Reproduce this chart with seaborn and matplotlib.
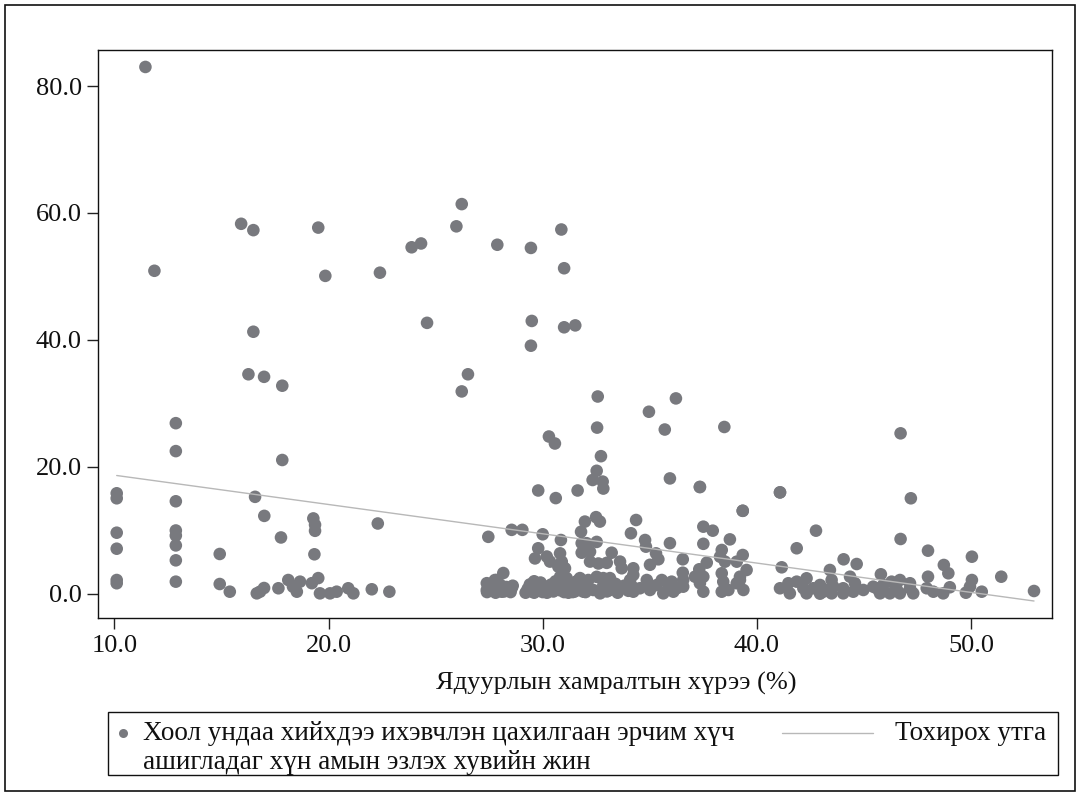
import numpy as np
import pandas as pd
import matplotlib
matplotlib.use("Agg")
import matplotlib.pyplot as plt
from matplotlib.patches import Rectangle
from matplotlib.lines import Line2D
import seaborn as sns

# Poverty headcount (%) and share (%) of population using electricity for cooking
x_low = [10.11, 10.11, 10.11, 10.11, 10.11, 10.11, 11.45, 11.87,
         12.87, 12.87, 12.87, 12.87, 12.87, 12.87, 12.87, 12.87]
y_low = [15.86, 15.07, 9.65, 7.13, 2.20, 1.69, 83.0, 50.9,
         26.9, 22.5, 14.6, 10.0, 9.2, 7.65, 5.3, 1.94]

x_a = [14.92, 14.92, 15.39, 16.57, 17.0, 17.84, 17.84, 16.99, 16.26, 16.49, 15.92, 16.49,
       19.52, 19.85, 22.4, 17.78, 16.65, 16.8, 16.99, 17.66, 18.12, 18.34, 18.52, 18.67,
       19.22, 19.29, 19.37, 19.37, 19.34, 19.6, 19.52, 20.07, 20.38, 20.92, 21.16, 22.02,
       22.84, 22.3]
y_a = [6.3, 1.57, 0.36, 15.3, 12.3, 21.1, 32.8, 34.2, 34.6, 41.3, 58.3, 57.3,
       57.7, 50.1, 50.6, 8.9, 0.1, 0.36, 0.94, 0.9, 2.2, 1.15, 0.36, 1.94,
       1.7, 11.9, 10.9, 9.95, 6.25, 0.1, 2.5, 0.1, 0.36, 0.9, 0.1, 0.74,
       0.36, 11.1]

x_b = [23.88, 24.32, 24.6, 26.22, 25.97, 27.88, 29.45, 30.87, 31.0, 29.49, 31.0, 31.52,
       29.45, 26.51, 26.22, 32.57, 36.22, 34.96, 32.54, 35.7, 38.48, 30.29, 30.57, 32.72,
       32.52, 32.33, 32.8, 32.83, 29.79, 30.61, 31.63, 35.94, 37.34, 41.08, 39.34, 46.71,
       47.19]
y_b = [54.6, 55.2, 42.7, 61.4, 57.9, 55.0, 54.5, 57.4, 51.3, 43.0, 42.0, 42.3,
       39.1, 34.6, 31.9, 31.1, 30.8, 28.7, 26.2, 25.9, 26.3, 24.8, 23.7, 21.7,
       19.4, 17.95, 17.7, 16.6, 16.3, 15.1, 16.3, 18.2, 16.85, 16.0, 13.1, 25.3,
       15.07]

x_c = [35.94, 27.46, 28.55, 29.05, 30.0, 30.85, 31.97, 32.49, 32.67, 31.79, 34.36, 34.12,
       34.78, 34.82, 35.29, 35.4, 31.82, 32.05, 32.52, 31.82, 32.21, 33.22, 29.79, 29.64,
       30.19, 30.34, 30.81, 30.89, 30.73, 31.04, 30.81, 31.12, 32.21, 32.6, 32.99, 33.61,
       33.69, 34.23, 34.23, 35.01, 28.16, 27.77, 27.39, 27.39, 27.69, 28.09, 28.55, 29.61,
       31.17, 31.74, 32.13, 32.52, 32.83, 33.14, 31.9, 32.36, 32.68, 33.14, 31.97, 32.83,
       34.08, 34.23, 34.54, 34.86, 35.01, 35.32, 35.56, 35.63, 35.86, 27.55, 27.85]
y_c = [8.0, 9.0, 10.1, 10.1, 9.4, 8.5, 11.4, 12.1, 11.4, 9.8, 11.65, 9.56,
       8.5, 7.45, 6.4, 5.46, 8.0, 8.0, 8.2, 6.5, 6.66, 6.5, 7.2, 5.6,
       5.9, 5.1, 6.4, 5.1, 4.3, 4.05, 2.7, 2.5, 5.1, 4.8, 4.9, 5.1,
       4.05, 4.05, 3.0, 4.6, 3.3, 2.2, 1.7, 0.63, 0.9, 0.36, 0.9, 1.4,
       0.5, 2.5, 2.2, 2.7, 2.5, 2.5, 0.36, 0.63, 0.1, 0.63, 1.4, 1.4,
       2.2, 0.36, 0.9, 2.2, 0.63, 1.4, 2.2, 0.1, 0.9, 1.2, 2.2]

# points hidden under the dense overlapping clusters near zero
x_dense = [27.4, 27.5, 27.6, 27.7, 27.8, 27.9, 28.0, 28.0, 28.1, 28.2, 28.3, 28.4, 28.5, 28.6,
           29.2, 29.3, 29.4, 29.5, 29.6, 29.7, 29.8, 29.9, 30.0, 30.1,
           30.2, 30.3, 30.4, 30.5, 30.6, 30.7, 30.8, 30.9, 31.0, 31.1,
           31.2, 31.3, 31.4, 31.5, 31.6, 31.7, 31.8, 31.9, 32.0, 32.1,
           29.6, 30.1, 30.6, 31.1, 31.6, 29.8, 30.4, 30.8, 31.4, 31.8,
           33.0, 33.2, 33.4, 33.5, 33.6, 33.8, 34.0, 34.2]
y_dense = [0.3, 1.2, 0.6, 1.8, 0.2, 1.0, 0.5, 1.5, 0.8, 0.4, 1.1, 0.7, 0.3, 1.3,
           0.2, 0.8, 1.5, 0.4, 2.0, 1.0, 0.6, 1.8, 0.3, 1.2,
           0.2, 0.8, 1.5, 0.4, 2.0, 1.0, 0.6, 1.8, 0.3, 1.2,
           0.2, 0.8, 1.5, 0.4, 2.0, 1.0, 0.6, 1.8, 0.3, 1.2,
           0.2, 0.8, 1.5, 0.4, 2.0, 1.0, 0.6, 1.8, 0.3, 1.2,
           0.4, 1.0, 1.6, 0.2, 0.8, 1.3, 0.5, 1.1]

x_d = [37.34, 41.08, 39.34, 37.5, 37.94, 42.76, 37.5, 38.74, 41.86, 36.54, 37.66, 37.31,
       37.5, 38.36, 38.28, 38.51, 39.34, 39.06, 39.52, 39.21, 38.36, 38.43, 41.16, 43.41,
       36.54, 36.56, 36.02, 36.26, 36.56, 36.1, 37.11, 37.34, 37.5, 38.36, 38.67, 39.06,
       39.37, 39.21, 41.08, 41.47, 41.86, 42.32, 42.63, 42.95, 43.26, 43.57, 43.49, 41.54,
       42.32, 42.95, 42.17, 43.1, 43.49]
y_d = [16.85, 16.0, 13.1, 10.6, 9.97, 9.97, 7.9, 8.6, 7.2, 5.46, 4.93, 3.89,
       2.72, 6.93, 5.87, 5.09, 6.14, 5.09, 3.78, 2.72, 3.26, 1.94, 4.2, 3.78,
       3.35, 2.2, 1.94, 0.9, 1.15, 0.36, 2.72, 1.69, 0.36, 0.36, 0.63, 1.69,
       0.63, 2.2, 0.9, 1.69, 1.94, 2.47, 0.9, 1.42, 0.63, 1.15, 2.2, 0.1,
       0.1, 0.05, 0.9, 0.36, 0.1]

x_e = [46.71, 47.99, 50.04, 44.05, 44.66, 44.35, 44.58, 44.03, 44.03, 44.5, 44.97, 45.79,
       45.43, 45.9, 46.29, 46.68, 47.15, 45.75, 46.21, 46.68, 47.3, 45.59, 46.53, 47.15,
       47.99, 47.93, 48.24, 48.7, 48.73, 48.94, 49.01, 49.76, 50.04, 49.95, 50.5, 51.41,
       52.94]
y_e = [8.66, 6.82, 5.87, 5.46, 4.72, 2.72, 1.69, 0.9, 0.1, 0.36, 0.63, 3.1,
       1.15, 1.42, 1.94, 2.2, 1.69, 0.1, 0.1, 0.1, 0.1, 0.9, 0.74, 0.9,
       2.72, 0.9, 0.36, 0.1, 4.57, 3.26, 1.06, 0.2, 2.2, 1.15, 0.36, 2.72,
       0.47]

x_ticks = [10, 20, 30, 40, 50]
x_tick_labels = ["10.0", "20.0", "30.0", "40.0", "50.0"]
y_ticks = [0, 20, 40, 60, 80]
y_tick_labels = ["0.0", "20.0", "40.0", "60.0", "80.0"]
x_title = "Ядуурлын хамралтын хүрээ (%)"
legend_scatter = "Хоол ундаа хийхдээ ихэвчлэн цахилгаан эрчим хүч\nашигладаг хүн амын эзлэх хувийн жин"
legend_fit = "Тохирох утга"

df = pd.DataFrame({
    "poverty": x_low + x_a + x_b + x_c + x_dense + x_d + x_e,
    "electric": y_low + y_a + y_b + y_c + y_dense + y_d + y_e,
})

sns.set_style("ticks")
plt.rcParams["font.family"] = ["Liberation Serif", "DejaVu Serif"]

W, H = 1078, 794
fig = plt.figure(figsize=(W / 100, H / 100), dpi=100)
fig.patch.set_facecolor("white")

def fx(px):
    return px / W

def fy(py):
    return 1 - py / H

left, right, top, bottom = 98.3, 1052, 50, 618.3
ax = fig.add_axes([fx(left), fy(bottom), fx(right) - fx(left), fy(top) - fy(bottom)])

pt_color = "#78797e"
fit_color = "#b8b8b8"

sns.scatterplot(data=df, x="poverty", y="electric", ax=ax, s=82, color=pt_color,
                edgecolor="none", linewidth=0, legend=False, zorder=3)
sns.regplot(data=df, x="poverty", y="electric", ax=ax, scatter=False, ci=None,
            line_kws=dict(color=fit_color, lw=1.0, zorder=4))

ax.set_xlim(9.25, 53.78)
ax.set_ylim(-3.83, 85.67)
ax.set_xticks(x_ticks)
ax.set_xticklabels(x_tick_labels)
ax.set_yticks(y_ticks)
ax.set_yticklabels(y_tick_labels)
ax.set_xlabel("")
ax.set_ylabel("")
ax.tick_params(axis="both", direction="out", length=8, width=1.0, color="#222222",
               labelsize=19, pad=4, labelcolor="#111111")
for sp in ax.spines.values():
    sp.set_visible(True)
    sp.set_color("#111111")
    sp.set_linewidth(1.0)

fig.text(fx(616), fy(683), x_title, ha="center", va="center", fontsize=19, color="#111111")

# Legend box (drawn as figure artists)
fig.add_artist(Rectangle((fx(108), fy(775)), fx(1058) - fx(108), fy(712) - fy(775),
                         transform=fig.transFigure, fill=False, edgecolor="#111111", lw=1.0))
fig.add_artist(Line2D([fx(123)], [fy(733)], marker="o", markersize=6.5, color=pt_color,
                      markeredgewidth=0, linestyle="none", transform=fig.transFigure))
fig.text(fx(143), fy(748), legend_scatter, ha="left", va="center", fontsize=19.5,
         color="#111111", linespacing=1.22)
fig.add_artist(Line2D([fx(782), fx(873)], [fy(733), fy(733)], color=fit_color, lw=1.0,
                      transform=fig.transFigure))
fig.text(fx(1046), fy(733), legend_fit, ha="right", va="center", fontsize=19.5, color="#111111")

# Outer border of the graph
fig.add_artist(Rectangle((fx(5), fy(791)), fx(1075) - fx(5), fy(5) - fy(791),
                         transform=fig.transFigure, fill=False, edgecolor="#111111", lw=1.2))

fig.savefig("out.png", dpi=100, facecolor="white")
